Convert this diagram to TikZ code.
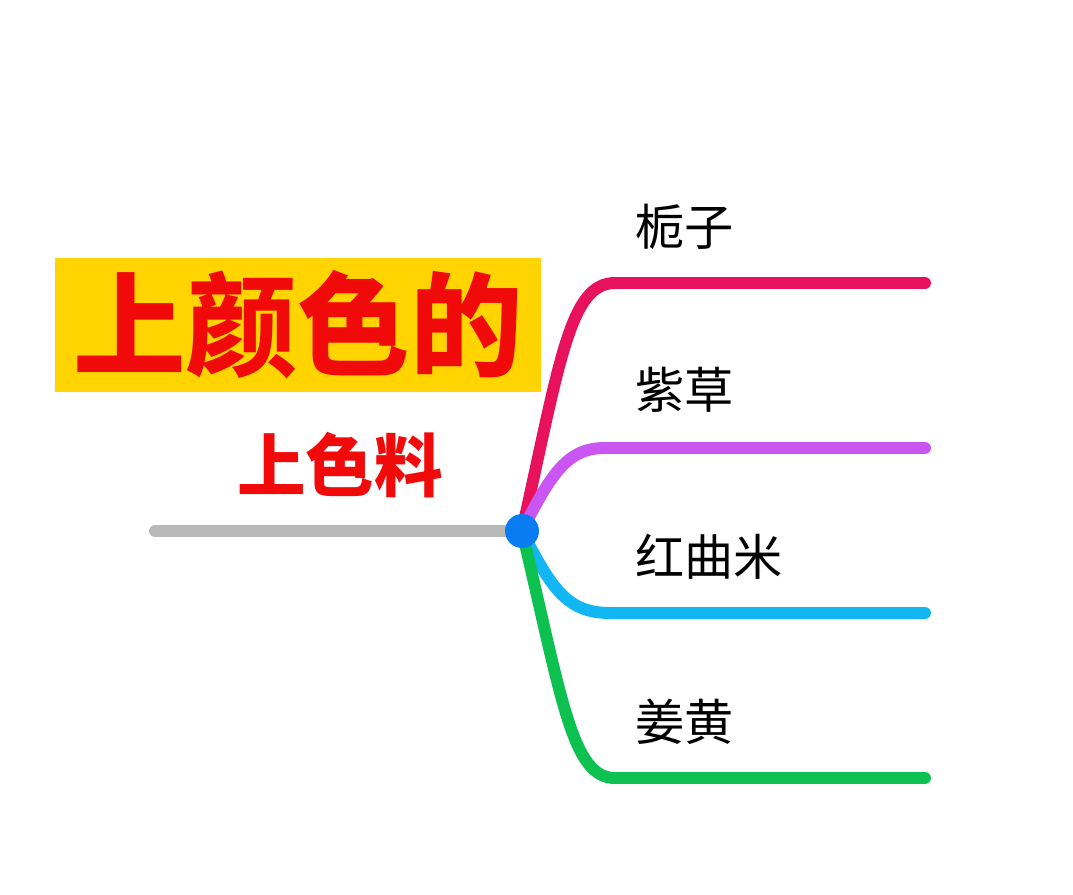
\documentclass[tikz,border=0pt]{standalone}
\usepackage{fontspec}
\newfontfamily\cjk{Noto Sans CJK SC}
\usepackage{xcolor}
\usepackage{tikz}
\usetikzlibrary{positioning, calc}

\definecolor{titleyellow}{HTML}{FFD400}
\definecolor{titlered}{HTML}{F00A0A}
\definecolor{hubblue}{HTML}{0A7CF2}
\definecolor{stemgray}{HTML}{B9B9B9}
\definecolor{gardeniapink}{HTML}{E8125C}
\definecolor{gromwellpurple}{HTML}{C956F2}
\definecolor{yeastcyan}{HTML}{12B6F2}
\definecolor{turmericgreen}{HTML}{0DC151}

\begin{document}
\begin{tikzpicture}[x=0.02cm, y=-0.02cm, line cap=round]
    % Styles
    \tikzstyle{title} = [rectangle, fill=titleyellow, text=titlered, font=\cjk\bfseries\fontsize{64}{70}\selectfont, minimum width=9.72cm, minimum height=2.7cm, inner sep=0pt]
    \tikzstyle{subtitle} = [text=titlered, font=\cjk\bfseries\fontsize{39}{44}\selectfont, inner sep=0pt]
    \tikzstyle{item} = [anchor=west, font=\cjk\fontsize{28}{32}\selectfont, inner sep=0pt]
    \tikzstyle{hubdot} = [circle, fill=hubblue, minimum size=0.68cm, inner sep=0pt]
    \tikzstyle{branch} = [line width=6.8pt]

    \useasboundingbox (0,0) rectangle (1073,895);

    % Titles
    \node (Title) [title] at (298,325) {上颜色的};
    \node (Sub) [subtitle] at (340,465) {上色料};

    % Hub and branch ends
    \coordinate (Hub) at (522,531);
    \coordinate (Root) at (155,531);
    \coordinate (End1) at (925,283);
    \coordinate (End2) at (925,448);
    \coordinate (End3) at (925,613);
    \coordinate (End4) at (925,778);

    % Stem
    \draw [branch, stemgray] (Root) -- (Hub);

    % Branches
    \draw [branch, gardeniapink] (Hub) .. controls (560,360) and (570,283) .. (615,283) -- (End1);
    \draw [branch, gromwellpurple] (Hub) .. controls (552,472) and (568,448) .. (605,448) -- (End2);
    \draw [branch, yeastcyan] (Hub) .. controls (552,590) and (568,613) .. (610,613) -- (End3);
    \draw [branch, turmericgreen] (Hub) .. controls (562,700) and (572,778) .. (615,778) -- (End4);

    \node (Dot) [hubdot] at (Hub) {};

    % Labels
    \node (Gardenia) [item] at (635,227) {栀子};
    \node (Gromwell) [item] at (635,390) {紫草};
    \node (RedYeast) [item] at (635,557) {红曲米};
    \node (Turmeric) [item] at (635,722) {姜黄};

\end{tikzpicture}
\end{document}
